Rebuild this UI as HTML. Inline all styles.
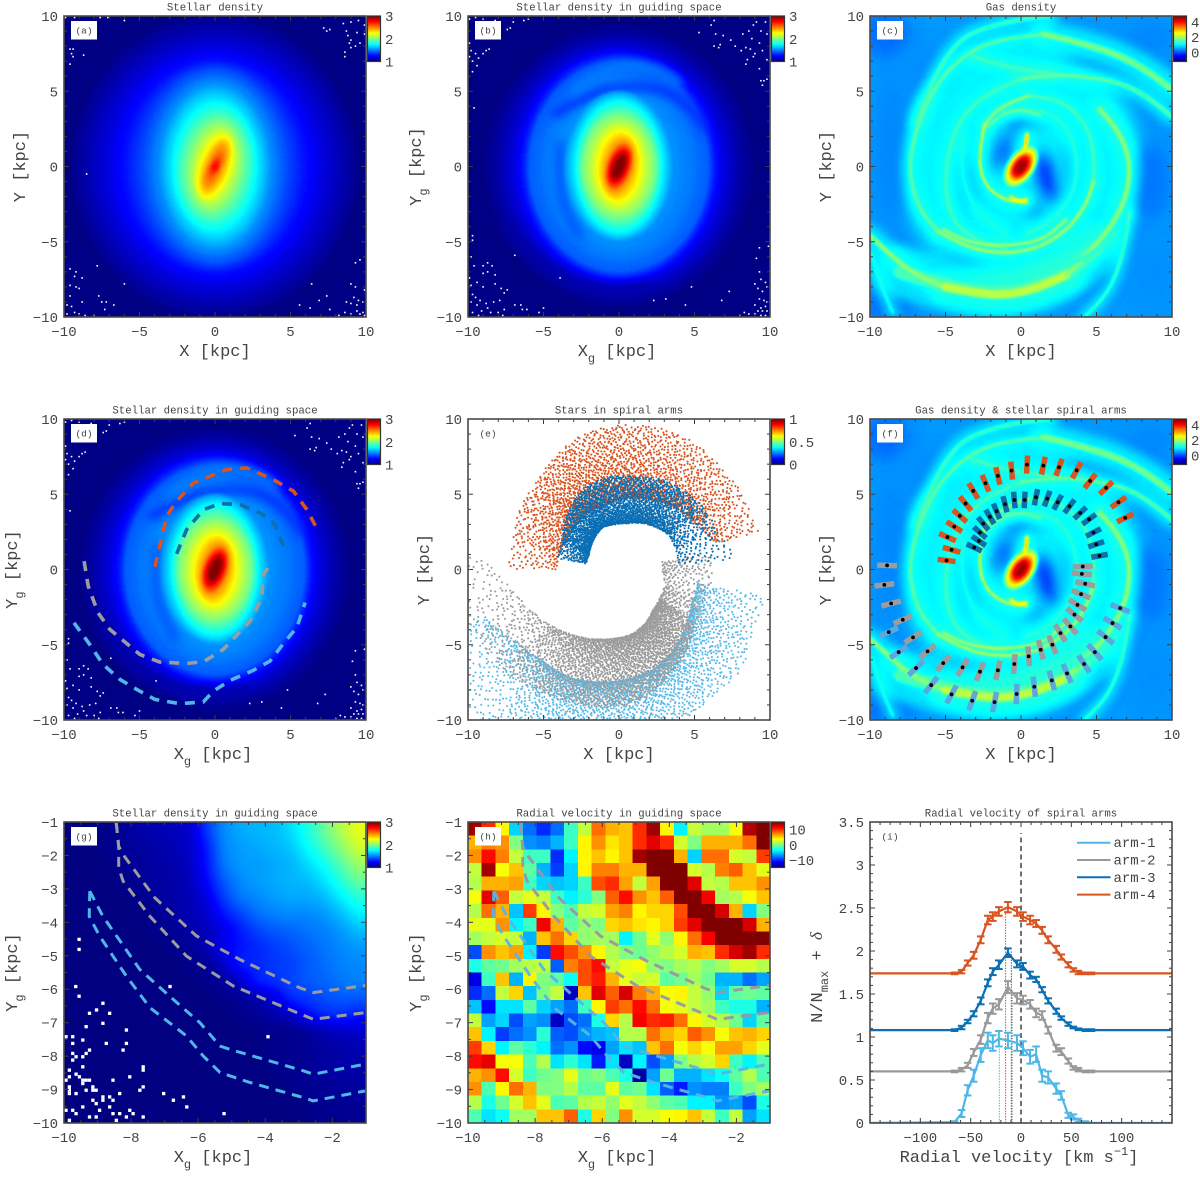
<!DOCTYPE html>
<html lang="en">
<head>
<meta charset="utf-8">
<title>Stellar and gas density maps with spiral arms</title>
<style>
html,body{margin:0;padding:0;background:#fff;}
#stage{position:relative;width:1200px;height:1177px;overflow:hidden;background:#fff;}
canvas{position:absolute;display:block;}
svg{position:absolute;left:0;top:0;}
text{font-family:"Liberation Mono",monospace;fill:#444;}
</style>
</head>
<body>
<div id="stage">
<canvas id="cv-a" width="302" height="301" style="left:64px;top:16px"></canvas>
<canvas id="cv-b" width="302" height="301" style="left:468px;top:16px"></canvas>
<canvas id="cv-c" width="302" height="301" style="left:870px;top:16px"></canvas>
<canvas id="cv-d" width="302" height="301" style="left:64px;top:419px"></canvas>
<canvas id="cv-f" width="302" height="301" style="left:870px;top:419px"></canvas>
<canvas id="cv-g" width="302" height="301" style="left:64px;top:822px"></canvas>
<svg id="chart" width="1200" height="1177" viewBox="0 0 1200 1177" xmlns="http://www.w3.org/2000/svg">
<defs id="defs"></defs>
</svg>
</div>
<script>
/* ---------- shared tick labels ---------- */
const fullTicks = [-10, -5, 0, 5, 10];
const zoomXTicks = [-10, -8, -6, -4, -2];
const zoomYTicks = [-10, -9, -8, -7, -6, -5, -4, -3, -2, -1];
const velTicks = [-100, -50, 0, 50, 100];
const normTicks = [0, 0.5, 1, 1.5, 2, 2.5, 3, 3.5];

/* ---------- panel (a): iso-density ellipses ---------- */
const stellarLevels = [1.03, 1.1, 1.2, 1.3, 1.42, 1.55, 1.7, 1.85, 2.0, 2.12, 2.3, 2.45, 2.55, 2.75];
const stellarRx = [9.6, 8.6, 7.2, 5.9, 4.7, 3.7, 3.0, 2.4, 1.8, 1.35, 0.85, 0.5, 0.3, 0.12];
const stellarRy = [10.2, 9.2, 8.0, 7.0, 6.4, 5.5, 4.6, 3.7, 3.0, 2.5, 2.0, 1.5, 0.9, 0.2];
const stellarTilt = [0, 0, 0, 0, 0, 0, 0, 5, 8, 12, 20, 22, 25, 25];
const stellarEmptyX = [9.5,9,8.5,9.9,7.2,7.6,7.4,8.7,9.4,8.8,9,8.9,9.3,9.6,9,8.6,8.6,9.9,-9.9,-9.3,-7.6,-7.1,-6,-9.6,-9.4,-9.5,-9.4,-8.7,-9.6,-8.5,-9.6,-9.2,-9.3,-8.8,-9.6,-9.2,-9,-9.6,-7.8,-7.7,-7.5,-7.2,-8.8,-7.3,-6.7,-6,-9.8,-9.5,-9.8,-9.3,-9,-8.6,-8,6.4,6.9,7.4,7.6,8.2,5.6,6.3,9.3,9.6,9,9.3,9.2,9.5,8.7,9,9.4,9.8,9.9,8.6,9,9.4,9.6,9.8,9.9];
const stellarEmptyY = [9.7,9.6,9.5,9.4,9.2,9.1,9,9,8.9,8.7,8.4,8.2,8,8.2,7.9,7.6,7.3,8.8,9.9,9.9,9.9,9.9,9.7,7.8,7.8,7.5,7.3,7.4,6.8,-0.5,-6.8,-7,-7.3,-7.4,-7.9,-8,-8.1,-8.6,-6.6,-8.6,-9,-9,-9,-9.5,-9.2,-7.8,-9.2,-9.3,-9.8,-9.7,-9.8,-9.9,-9.9,-7.8,-8.9,-8.6,-9.5,-9.9,-9.2,-9.4,-6.4,-6.2,-7.8,-8,-8.7,-8.9,-9,-9.1,-9.2,-9,-8.2,-9.7,-9.8,-9.6,-9.8,-9.7,-9.9];

/* ---------- panels (b, d): iso-density ellipses and arm ridges ---------- */
const guidingLevels = [1.03, 1.08, 1.2, 1.32, 1.45, 1.55, 1.75, 2.0, 2.25, 2.5, 2.75, 3.0];
const guidingRx = [9.0, 8.2, 7.0, 6.3, 5.9, 3.6, 2.9, 2.4, 1.45, 0.8, 0.55, 0.25];
const guidingRy = [9.5, 8.8, 7.9, 7.4, 6.9, 5.0, 4.4, 3.4, 2.4, 1.6, 1.15, 0.7];
const guidingTilt = [0, 0, 0, 0, 0, 0, 0, 0, 3, 15, 20, 22];
const guidingRidgeLevel = [1.32, 1.08, 1.55, 1.42, 1.5, 1.36];
const guidingRidgeWidth = [0.5, 0.6, 0.4, 0.35, 0.5, 0.35];
const guidingRidgeX = [[-4.2,-2,0,2.5,4.5,5.8],[-7.5,-6,-4,-2,0,2],[3.2,3.5,3.4,2.8,1.8],[2.6,2.7,2.4,1.8],[-3,-1.5,0.5,2.5,4],[-3.9,-4,-3.5,-2.6]];
const guidingRidgeY = [[3.5,4.8,5.3,5.3,4.2,2.5],[-4,-5.8,-7.2,-8,-8.3,-8],[2.5,0.5,-1.2,-2.8,-4.2],[1.5,-0.2,-1.8,-3.2],[5,6.2,6.8,6.6,5.6],[1.5,-1,-3,-4.6]];
const guidingEmptyX = [6.3,6.1,5.3,6.4,6.9,7.4,8.2,8.8,8.6,8.9,9.1,9.4,9.7,9.8,6.7,6.3,6.6,7.7,8.1,8.4,8.7,9,9.3,9.5,9.8,8.5,8.9,8.4,9.3,9.6,9.4,9.5,9.8,-9.9,-9.5,-9,-8.2,-7,-7.2,-7.4,-6.3,-6,-9.9,-9.8,-9.5,-9.3,-9,-8.8,-9.7,-9.4,-8.6,-9.9,-9.7,-9.6,-9.7,-9.7,-9.8,-9.6,-8.7,-9,-8.4,-9,-8.7,-8.2,-9.9,-9.8,-9.4,-9,-8.2,-7.8,-7.6,-7.4,-9.7,-9.5,-9.2,-9.8,-9.4,-8.8,-8.3,-7.9,-9.1,-8.7,-8.5,-8,-7.7,-9.7,-9.3,-7.6,-6.9,-6.5,-6.4,-6.1,-6.9,-3.9,-5.3,-5,4.8,4.4,7.3,6.8,3.1,2.3,9.1,9.3,9.3,9.4,9,9.2,9.5,9.8,9.7,9.3,9.6,9.8,9,9.4,9.7,9.2,9.5,9.8,8.6,9,9.4,9.7,8,8.3,9.9];
const guidingEmptyY = [9.7,9.4,8.9,8.8,8.7,8.4,8.8,8.5,9,9.4,9.6,9,9.6,8.8,8.1,8,7.9,8,7.7,7.9,7.8,7.5,8.2,7.7,7.1,7.1,7.3,6.8,6.5,5.7,5.7,5.4,5.8,9.8,9.9,9.8,9.7,9.6,9.2,9.1,9.7,9.8,8.2,7.7,7.5,7.2,7.5,7.7,7,6.7,7.8,7.3,6.3,3.9,-4.6,-4.9,-6,-6.6,-6.4,-6.6,-6.6,-7.1,-7,-7.2,-7.4,-7.9,-7.7,-8,-7.8,-8.1,-8.4,-8.2,-8.5,-8.7,-8.9,-9,-9.2,-9.1,-9,-8.9,-9.6,-9.4,-9.7,-9.7,-9.9,-9.7,-9.9,-9.5,-9.2,-9.2,-9.5,-9.5,-5.9,-7.4,-9.7,-9.4,-8,-9.2,-8.3,-8.9,-8.8,-8.9,-6.1,-5.4,-7,-7.5,-7.8,-8.1,-8.3,-8,-7.7,-8.8,-8.9,-9,-9.2,-9.4,-9.3,-9.6,-9.6,-9.6,-9.8,-9.8,-9.9,-9.9,-9.9,-9.7,-5.3];

/* ---------- panels (c, f): gas background, filaments, centre ---------- */
const gasBlobX = [0,-9,-8.6,-6.5,-7,-9,5.3,6,8.6,8.8,5,8.5,-4,-3.5,1.7,-1.2,0,0.9,3.2];
const gasBlobY = [0,8.8,1,6.5,-8,-9.3,-6.5,-4.7,-1,-7,7,8.5,-6.8,-1,-0.7,1,2.6,-2.8,-0.5];
const gasBlobRx = [8,1.5,1,1.6,3.2,1,0.8,0.7,1.2,1,2,1.5,1.6,0.5,0.5,0.5,1,0.5,0.6];
const gasBlobRy = [8.5,1.5,4.5,1.4,1,0.7,1.6,1,2.5,2,0.5,1,0.4,2,1.7,1.3,0.5,0.6,2];
const gasBlobTilt = [0,0,0,0,-25,0,0,0,0,0,15,0,0,-10,-15,20,0,0,0];
const gasBlobLevel = [1.0,0.2,0.35,0.4,0.25,0.1,0.25,0.3,0.25,0.4,0.4,0.35,0.35,0.6,-0.6,-0.1,0.2,0.3,0.7];
const gasRidgeLevel = [1.45,1.75,1.7,2.1,1.5,1.9,2.15,1.85,1.7,1.55,1.7,2.2,2.6,2.3,1.5,1.3,1.6,1.3,1.2,3.0,3.1,1.9,1.5];
const gasRidgeWidth = [0.9,0.42,0.2,0.2,0.2,0.3,0.55,0.32,0.22,0.16,0.12,0.14,0.14,0.14,0.1,0.1,0.14,0.3,0.2,0.25,0.15,0.12,0.2];
const gasRidgeX = [
 [-8,-5,-3,-1,1,3,5],
 [10,8.5,6.5,4,1.5],
 [1.5,-1,-3,-5,-6.4,-7.2,-7.4,-6.8,-5.5],
 [-5.5,-3.8,-1.5,1,3,4.3,4.8],
 [-6.9,-6,-4.3,-2.5,0,2],
 [-10,-8.5,-7,-5],
 [-5,-3,-1,1,3],
 [3,5,6.6,7.2,7.1,6.2,5.2],
 [10,8.5,6.5,4,2,0],
 [0,-2,-3.8,-4.7,-5,-4.9,-4.2,-2.8,-1],
 [4.8,4.9,4.2,2.7,0.5],
 [0.5,-1.3,-2.4],
 [-2.4,-2.8,-2.6,-1.8,-0.8,0.4],
 [-5.15,-3.6,-0.95,1.5,3],
 [-1.5,0.5,2.3,3.4,3.8,3.4,2,0.3],
 [-3.8,-4,-3.5,-2.5,-1],
 [4.2,5.5,6.4,6.9,7.2],
 [0.8,4.4,6.3],
 [-9.9,-9.3,-8.5],
 [0.4,0.35,0.2],
 [-0.7,-0.3,0.4],
 [-2.3,-1.3,0,1.3],
 [-3.2,-1,2]];
const gasRidgeY = [
 [-7,-7.9,-8.3,-8.4,-8,-7.1,-5.4],
 [5.1,6.3,7.4,8.2,8.8],
 [8.8,8.5,7.9,6.3,4,1.5,-0.5,-2.8,-4.3],
 [-4.3,-5.3,-5.8,-5.5,-4.3,-2.6,-1],
 [3,5.5,8.3,9.2,9.8,10],
 [-4.6,-6,-7.2,-8],
 [-8,-8.4,-8.55,-8.1,-7.2],
 [-7.2,-5.3,-3,-1,1,2.7,3.8],
 [3.3,4.6,5.6,6,6.1,5.8],
 [5.8,5,3.5,1.5,-0.5,-2.5,-4,-5,-5.4],
 [-1,1,3,4.4,4.7],
 [4.7,4.1,2.8],
 [2.8,1,-0.8,-1.8,-2.3,-2.4],
 [-4.2,-5.1,-5.3,-4.9,-3.5],
 [3.6,3.9,3.4,2,0,-2,-3.7,-4.5],
 [2,0,-2,-3.5,-4.5],
 [-10,-8.8,-7,-5,-3],
 [-7.3,-6.2,-4.4],
 [-5.8,-7.8,-9.7],
 [2.1,1.5,1.1],
 [-2,-2.3,-2.2],
 [2.6,3.5,3.8,3.4],
 [7.3,6.6,6.2]];
const gasCoreLevels = [2.2, 3.0, 4.0, 4.6];
const gasCoreRx = [0.85, 0.65, 0.5, 0.3];
const gasCoreRy = [1.5, 1.15, 0.85, 0.55];
const gasCoreTilt = 35;

/* ---------- panels (d, g, h): dashed arm boundaries ---------- */
const armDColors = ['#d9541e','#0f6fa8','#9c9c9c','#4fb6e6'];
const armDX = [
 [-3.98,-3.2,-2.54,-1.44,0.77,2.1,3.87,5.2,6.08,6.75],
 [-2.54,-1.88,-0.77,0.33,1.66,2.99,3.98,4.65],
 [-8.67,-8.4,-7.74,-6.97,-4.98,-3.65,-1.88,-0.77,0.55,2.32,3.1,3.2,3.5],
 [-9.34,-8.3,-7.41,-6.3,-5.2,-3.98,-2.32,-0.77,-0.11,1,2.54,3.65,4.65,5.42,5.97]];
const armDY = [
 [0.18,3.54,4.54,5.75,6.64,6.75,5.97,5.2,3.98,2.72],
 [1.04,2.65,3.98,4.38,4.31,3.76,2.99,1.22],
 [0.55,-1.1,-2.88,-3.98,-5.64,-6.15,-6.24,-6.13,-5.31,-3.43,-1.88,-0.33,0.1],
 [-3.54,-4.98,-6.31,-7.3,-7.96,-8.63,-8.92,-8.8,-8.08,-7.37,-6.7,-6.08,-4.76,-3.87,-2.2]];
const edgeColors = ['#9c9c9c','#9c9c9c','#4fb6e6','#4fb6e6'];
const edgeX = [
 [-8.44,-8.37,-8.19,-7.29,-6.05,-4.76,-2.97,-2.57,-1.02],
 [-8.44,-8.37,-8.37,-8.24,-7.44,-6.35,-4.96,-3.06,-2.57,-1.02],
 [-9.23,-8.84,-7.74,-6.75,-5.95,-5.35,-5.05,-2.87,-2.57,-1.02],
 [-9.23,-9.25,-8.94,-8.14,-7.44,-6.35,-5.85,-5.35,-4.46,-2.87,-2.57,-1.02]];
const edgeY = [
 [-1.03,-1.73,-2.04,-3.27,-4.41,-5.11,-5.96,-6.1,-5.89],
 [-1.03,-1.73,-2.37,-2.77,-3.82,-5.01,-5.9,-6.7,-6.9,-6.7],
 [-3.07,-3.82,-5.41,-6.3,-7,-7.7,-7.8,-8.44,-8.54,-8.24],
 [-3.07,-3.82,-4.41,-5.61,-6.55,-7.4,-8,-8.49,-8.79,-9.24,-9.34,-9.04]];

/* ---------- panel (e): star counts per 15-degree polar bin ---------- */
const sceneColors = ['#57bbe9','#9c9c9c','#d9541e','#0a6fb4'];
const armThetaStart = [
 [200,215,230,245,260,275,290,305,320,335],
 [175,190,205,220,235,250,265,280,295,310,325,340,355],
 [15,30,45,60,75,90,105,120,135,150,165],
 [5,20,35,50,65,80,95,110,125,140,155]];
const armInnerRadius = [
 [9.4,8.3,7.9,7.9,7.6,7.3,7,6.4,5.8,5.3],
 [8.8,7.2,6.4,5.8,5.3,4.9,4.6,4.4,4,3.5,3.3,3.2,2.9],
 [6.6,5.9,5.6,5.2,4.9,4.6,4.3,4.3,4.1,4,4.1],
 [3.9,4,4,3.7,3.4,3.1,3,3,2.7,2.4,2.2]];
const armOuterRadius = [
 [12,13,14,11.5,11,11,11,10.5,10.5,9.8],
 [11,11,10.5,10.2,9.8,9.4,9.2,8.8,7.8,7,6.2,6,6.2],
 [9.6,9.6,9.6,9.8,9.8,9.6,9.3,8.6,7.9,7.7,7.3],
 [8,7,7,6.8,6.6,6.3,6.2,6,5.4,4.7,4.2]];
const armCounts = [
 [90,190,320,340,340,320,300,240,220,160],
 [35,70,120,240,340,400,430,420,400,290,110,60,90],
 [120,190,230,270,310,330,320,270,190,130,70],
 [70,120,230,290,300,290,300,280,240,190,100]];
const armInnerBias = [1.7, 1.3, 1.35, 1.3];

/* ---------- panel (f): arm sample points ---------- */
const fColors = ['#5ba8e0','#9c9c9c','#0f6fa8','#d9541e'];
const fHalf = [0.68, 0.66, 0.55, 0.6];
const fX = [
 [-8.76,-8.1,-6.95,-5.95,-4.6,-3.23,-1.75,-0.29,0.88,2.04,3.05,4.18,4.89,5.6,6.06,6.57],
 [-8.87,-9.05,-8.6,-7.83,-7.15,-6.19,-5.15,-3.87,-2.72,-1.53,-0.44,0.51,1.31,2.08,2.61,3.27,3.54,3.74,3.98,4.25,4.03,4.09],
 [-3.1,-2.79,-2.72,-2.5,-2.06,-1.62,-1.06,-0.44,0.24,0.99,1.73,2.43,3.21,3.92,4.51,4.8,4.98,5.2],
 [-4.93,-4.6,-4.87,-4.42,-4.05,-3.67,-3.16,-2.35,-1.53,-0.62,0.4,1.48,2.52,3.69,4.58,5.64,6.46,6.9]];
const fY = [
 [-4.16,-5.49,-6.55,-7.68,-8.3,-8.72,-8.81,-8.27,-7.79,-7.37,-6.9,-6.28,-5.49,-4.49,-3.56,-2.57],
 [0.27,-1.02,-2.26,-3.34,-4.51,-5.44,-6.22,-6.5,-6.79,-6.7,-6.28,-5.77,-5.33,-5,-4.23,-3.78,-3,-2.35,-1.64,-0.95,-0.29,0.2],
 [1.46,1.9,2.46,3.05,3.5,3.87,4.34,4.62,4.62,4.8,4.71,4.47,4.2,3.76,3.34,2.46,1.68,0.91],
 [0.6,1.31,2.15,2.85,3.56,4.38,5.22,5.73,6.22,6.57,6.97,6.9,6.79,6.59,5.88,5.42,4.47,3.43]];

/* ---------- panel (g): density on a 0.5 kpc grid, top row first ---------- */
const gDensity = [
 [1,1,1.02,1.05,1.08,1.1,1.12,1.15,1.35,1.52,1.58,1.6,1.62,1.68,1.8,1.95,2.1,2.2],
 [1,1,1.02,1.04,1.06,1.08,1.1,1.15,1.3,1.5,1.56,1.58,1.6,1.64,1.75,1.88,2.02,2.15],
 [1,1,1,1.03,1.05,1.07,1.09,1.13,1.28,1.48,1.55,1.56,1.58,1.6,1.68,1.78,1.92,2.05],
 [1,1,1,1.02,1.04,1.06,1.08,1.12,1.25,1.42,1.52,1.56,1.58,1.6,1.62,1.7,1.82,1.95],
 [1,1,1,1,1.02,1.05,1.08,1.1,1.2,1.36,1.48,1.52,1.56,1.58,1.58,1.62,1.72,1.82],
 [1,1,1,1,1,1.03,1.06,1.1,1.15,1.28,1.38,1.46,1.5,1.52,1.52,1.55,1.62,1.72],
 [1,1,1,1,1,1.02,1.04,1.08,1.12,1.2,1.3,1.38,1.42,1.45,1.48,1.5,1.55,1.62],
 [1,1,1,1,1,1,1.02,1.04,1.1,1.22,1.28,1.32,1.36,1.4,1.44,1.48,1.52,1.55],
 [1,1,1,1,1,1,1,1.02,1.05,1.14,1.3,1.32,1.35,1.38,1.42,1.46,1.5,1.52],
 [1,1,1,1,1,1,1,1,1.02,1.06,1.14,1.3,1.34,1.38,1.42,1.45,1.48,1.5],
 [1,1,1,1,1,1,1,1,1,1.02,1.05,1.1,1.2,1.32,1.36,1.4,1.42,1.42],
 [1,1,1,1,1,1,1,1,1,1,1.02,1.04,1.08,1.14,1.25,1.32,1.34,1.3],
 [1,1,1,1,1,1,1,1,1,1,1,1.01,1.02,1.03,1.06,1.1,1.14,1.15],
 [1,1,1,1,1,1,1,1,1,1,1,1.01,1.02,1.03,1.04,1.06,1.08,1.1],
 [1,1,1,1,1,1,1,1,1,1,1,1,1.02,1.03,1.04,1.06,1.08,1.08],
 [1,1,1,1,1,1,1,1,1,1,1,1,1,1.02,1.04,1.05,1.06,1.06],
 [1,1,1,1,1,1,1,1,1,1,1,1,1,1,1.02,1.03,1.04,1.05],
 [1,1,1,1,1,1,1,1,1,1,1,1,1,1,1.01,1.02,1.03,1.04]];
const gEmptyX = [-9.55,-9.55,-9.65,-9.55,-8.84,-9.03,-9.24,-8.64,-9.34,-8.84,-8.14,-9.94,-9.74,-9.44,-9.74,-8.74,-8.14,-9.24,-8.24,-9.74,-9.34,-9.44,-9.64,-9.74,-9.44,-7.64,-7.64,-8.04,-9.84,-9.64,-9.54,-9.44,-9.34,-9.84,-9.24,-8.54,-9.94,-9.44,-9.84,-9.14,-7.64,-7.74,-9.84,-9.34,-9.14,-9.04,-9.84,-9.64,-8.34,-7.03,-6.44,-9.14,-8.84,-8.64,-8.54,-9.04,-8.84,-6.74,-6.34,-9.44,-8.64,-9.94,-9.74,-8.94,-8.04,-9.64,-8.54,-8.34,-7.94,-9.24,-9.04,-8.14,-7.64,-9.84,-8.44,-5.23,-6.84,-3.92];
const gEmptyY = [-4.51,-4.81,-5.92,-6.21,-6.42,-6.62,-6.72,-6.72,-7.12,-7.02,-7.22,-7.42,-7.42,-7.52,-7.62,-7.62,-7.62,-7.82,-7.82,-7.92,-7.92,-8.02,-8.02,-8.12,-8.32,-8.32,-8.42,-8.62,-8.42,-8.54,-8.62,-8.72,-8.72,-8.62,-8.72,-8.72,-8.72,-8.82,-8.92,-8.92,-8.92,-9.02,-9.02,-9.02,-9.02,-9.02,-9.12,-9.12,-9.12,-9.12,-9.22,-9.32,-9.22,-9.22,-9.32,-9.42,-9.32,-9.32,-9.52,-9.52,-9.52,-9.62,-9.62,-9.62,-9.62,-9.72,-9.72,-9.72,-9.72,-9.82,-9.82,-9.82,-9.82,-9.92,-9.92,-9.72,-5.92,-7.42];

/* ---------- panel (h): radial velocity per cell, top row first ---------- */
const hVelocity = [
 [14,10,4,-5,-8,-10,-8,-2,2,8,6,5.5,10,14,4,-4,2,1,1,3.5,13.5,15],
 [6,7.5,7,0,-7,-7.5,-6,-2,4,7,4.5,5.5,10,12,10,2.5,0,6,6,6,8,15],
 [7,11,7.5,2,-2,-2,-10,-4,4,5.5,4,5.5,14,15,15,6,-5,8,8,2.5,2,9.5],
 [2,14,3.5,5.5,-1,-6,-9.5,-5,4,7.5,7.5,6,6,15,15,15,2.5,1.5,7.5,8.5,5.5,3],
 [1.5,6,6,6.5,-2,-5,-5.5,-5,-2,9,10,6.5,2,6.5,15,15,12,2,1.5,5.5,5.5,7],
 [3.5,12,8.5,2,3,2,-2,-4,-2.5,0,8.5,11,7,5.5,8.5,15,15,11.5,1,1.5,3.5,5.5],
 [1.5,8,6,-5.5,9.5,4,0,-1.5,2,2.5,6.5,7.5,4,5,5,9,15,15,12.5,6,-5,0],
 [3,3,7,-4,-2,11.5,6,-1,0.5,0,5,5.5,4.5,4,5,9.5,12,15,15,15,12.5,6],
 [1,2,2.5,2,-6,5.5,8,5,0.5,1,1,-4,-0.5,3,0.5,4,8,11.5,15,15,15,15],
 [-9,7,5.5,6.5,-4,-9.5,11,9,7,4,1.5,0,-0.5,0.5,1.5,2.5,6,5.5,10,12.5,14,10],
 [-3,-1,-0.5,1,1.5,2,-8.5,7.5,9,11,2,3,3.5,0.5,0,1,1.5,0,1,2.5,2.5,1.5],
 [-12,-2,5.5,-6,4,0,-1,-3.5,9,10.5,6,3,2,2.5,-1,-0.5,1,-0.5,-6,-6,-8,-6.5],
 [-10,-8,2,5,-5.5,0,2,-13,5.5,12,8.5,12.5,7.5,6,3.5,4,2,0.5,-5,-1,-0.5,-1],
 [-5.5,-11,-4.5,-4.5,-1,-5,-6.5,-8,-2,4,9.5,8,11,8,3.5,3,2,1,-2,-3,-3,-6],
 [2,-6.5,-5,-9,-6.5,-7,-13,-9,-8,-3,5,1.5,11.5,10,10.5,8,4,2.5,1.5,-0.5,-5,-1],
 [5.5,-4,-9.5,-8,-7,-2.5,-8.5,-9,-7,-6,-5.5,1.5,1.5,8,6,5,8.5,7,3.5,5.5,6,5],
 [9.5,5,-4,-1,-2.5,-4,-8,-7,-11,-11.5,-6.5,-4.5,-5.5,5.5,8,3.5,5,3.5,6.5,6.5,5,3],
 [11,12,3.5,3.5,-1.5,1.5,-4.5,-2.5,-4.5,-10.5,-4.5,-13,-4,-9,-6.5,0,1.5,2.5,5,-2,-4,-1.5],
 [6,7,11,2.5,-2,-0.5,0,3,-0.5,0,-1.5,-3,-14,-6.5,-0.5,-6,-6,-4.5,-3.5,-1,1.5,-1.5],
 [7,-1.5,4,8,6,0,0,1.5,-1,-1,3,-1,-0.5,-4.5,-8.5,-10.5,-7,-7.5,-7.5,-2,0,1],
 [1.5,-3,-0.5,2.5,5.5,3,-1.5,-1,1.5,2,0.5,3,2,0.5,-1,-1.5,-4,-4,-7,-6.5,-9,-3],
 [-1.5,-4.5,-3.5,1,1,5.5,5.5,8.5,-3,5,0,7,2.5,2.5,3.5,4,5.5,2,-2,2,-6.5,-4.5]];

/* ---------- panel (i): velocity histograms ---------- */
const velocities = [-150,-66,-59,-53,-47,-40,-33,-28,-22,-13,-4,2,9,15,21,27,35,40,47,52,57,64,70,150];
const arm1 = [0,0.01,0.11,0.38,0.55,0.79,0.96,0.93,0.98,0.96,0.93,0.87,0.77,0.8,0.55,0.53,0.4,0.32,0.09,0.07,0.03,0.01,0,0];
const arm2 = [0.6,0.6,0.62,0.67,0.82,0.97,1.22,1.33,1.38,1.58,1.45,1.43,1.38,1.28,1.25,1.08,0.87,0.83,0.72,0.64,0.62,0.6,0.6,0.6];
const arm3 = [1.08,1.08,1.11,1.18,1.27,1.42,1.63,1.76,1.84,1.98,1.85,1.82,1.72,1.67,1.55,1.42,1.3,1.22,1.15,1.11,1.09,1.08,1.08,1.08];
const arm4 = [1.74,1.74,1.76,1.86,1.95,2.13,2.36,2.4,2.46,2.51,2.46,2.4,2.36,2.32,2.24,2.13,2.02,1.93,1.84,1.78,1.75,1.74,1.74,1.74];
const err1 = [0,0.01,0.04,0.06,0.07,0.08,0.09,0.09,0.09,0.09,0.09,0.08,0.08,0.09,0.07,0.07,0.06,0.05,0.03,0.03,0.02,0.01,0,0];
const err2 = [0,0.01,0.02,0.03,0.04,0.05,0.06,0.06,0.06,0.07,0.06,0.05,0.05,0.05,0.05,0.04,0.04,0.04,0.03,0.02,0.02,0.01,0.01,0];
const err3 = [0,0.01,0.02,0.02,0.03,0.04,0.04,0.04,0.05,0.05,0.04,0.04,0.04,0.03,0.03,0.03,0.03,0.02,0.02,0.01,0.01,0.01,0.01,0];
const err4 = [0,0.01,0.02,0.03,0.04,0.04,0.05,0.05,0.05,0.06,0.05,0.05,0.05,0.04,0.04,0.04,0.04,0.03,0.03,0.02,0.02,0.01,0.01,0];
const armNames = ['arm-1','arm-2','arm-3','arm-4'];
const armColors = ['#4db7e8','#999999','#0a6fb4','#d9541e'];
const peakVelocity = [-21.5,-8.7,-9.6,-15.3];
const peakHeight = [1.0,1.55,2.0,2.5];

/* ---------- helpers ---------- */
const NS = 'http://www.w3.org/2000/svg';
const chart = document.getElementById('chart');
const defs = document.getElementById('defs');
const COLS = [64, 468, 870], ROWS = [16, 419, 822], W = 302, H = 301;

function jet(t) {
  t = Math.max(0, Math.min(1, t));
  const c = v => Math.round(255 * Math.max(0, Math.min(1, v)));
  return [c(1.5 - Math.abs(4 * t - 3)), c(1.5 - Math.abs(4 * t - 2)), c(1.5 - Math.abs(4 * t - 1))];
}
function jetCss(t) { const c = jet(t); return 'rgb(' + c[0] + ',' + c[1] + ',' + c[2] + ')'; }

function shape(parent, tag, attrs, name) {
  const node = document.createElementNS(NS, tag);
  for (const k in attrs) node.setAttribute(k, attrs[k]);
  
  
  parent.appendChild(node);
  return node;
}
function label(parent, str, x, y, size, anchor, name, rot) {
  const t = document.createElementNS(NS, 'text');
  t.setAttribute('x', x);
  t.setAttribute('y', y);
  t.setAttribute('font-size', size);
  t.setAttribute('text-anchor', anchor);
  if (rot) t.setAttribute('transform', 'rotate(' + rot + ' ' + x + ' ' + y + ')');
  t.textContent = str;
  
  
  parent.appendChild(t);
  return t;
}
function span(t, str, size, dy, name) {
  const s = document.createElementNS(NS, 'tspan');
  if (size) s.setAttribute('font-size', size);
  if (dy) s.setAttribute('dy', dy);
  s.textContent = str;
  
  
  t.appendChild(s);
  return s;
}
function fmt(v) { return String(v).replace('-', '\u2212'); }

function makePanel(id, col, row, xr, yr) {
  const g = shape(chart, 'g', {}, 'panel-' + id);
  const L = COLS[col], T = ROWS[row];
  const sx = v => L + (v - xr[0]) / (xr[1] - xr[0]) * W;
  const sy = v => T + H - (v - yr[0]) / (yr[1] - yr[0]) * H;
  const clip = document.createElementNS(NS, 'clipPath');
  clip.setAttribute('id', 'clip-' + id);
  const cr = document.createElementNS(NS, 'rect');
  cr.setAttribute('x', L); cr.setAttribute('y', T); cr.setAttribute('width', W); cr.setAttribute('height', H);
  clip.appendChild(cr);
  defs.appendChild(clip);
  const marks = shape(g, 'g', { 'clip-path': 'url(#clip-' + id + ')' }, 'plot-area-' + id);
  return { id, g, marks, L, T, sx, sy, xr, yr };
}

function drawFrame(p, xLabels, yLabels, xMinor, yMinor) {
  const g = shape(p.g, 'g', { stroke: '#3c3c3c', 'stroke-width': 1, fill: 'none' }, 'ticks-' + p.id);
  const B = p.T + H, R = p.L + W;
  const tick = (x1, y1, x2, y2) => shape(g, 'line', { x1, y1, x2, y2 }, 'tick-mark');
  for (let k = 0, v = p.xr[0]; v <= p.xr[1] + 1e-6; k++, v = p.xr[0] + k * xMinor) {
    const major = xLabels.some(m => Math.abs(m - v) < 1e-6);
    const len = major ? 5 : 3, x = p.sx(v);
    tick(x, B, x, B - len); tick(x, p.T, x, p.T + len);
  }
  for (let k = 0, v = p.yr[0]; v <= p.yr[1] + 1e-6; k++, v = p.yr[0] + k * yMinor) {
    const major = yLabels.some(m => Math.abs(m - v) < 1e-6);
    const len = major ? 5 : 3, y = p.sy(v);
    tick(p.L, y, p.L + len, y); tick(R, y, R - len, y);
  }
  shape(p.g, 'rect', { x: p.L, y: p.T, width: W, height: H, fill: 'none', stroke: '#4a4a4a', 'stroke-width': 1.6 }, 'frame-' + p.id);
  xLabels.forEach(v => label(p.g, fmt(v), p.sx(v), B + 19, 14, 'middle', 'x-tick-label'));
  yLabels.forEach(v => label(p.g, fmt(v), p.L - 6, p.sy(v) + 5, 14, 'end', 'y-tick-label'));
}

function axisTitles(p, title, xName, xSub, yName, ySub) {
  label(p.g, title, p.L + W / 2, p.T - 5.5, 10.7, 'middle', 'panel-title-' + p.id);
  const xt = label(p.g, xName, p.L + W / 2 - (xSub ? 2 : 0), p.T + H + 39, 17, 'middle', 'x-axis-title-' + p.id);
  if (xSub) { span(xt, 'g', 12, 6, 'x-subscript'); span(xt, ' [kpc]', 17, -6, 'x-unit'); }
  else { span(xt, ' [kpc]', 17, 0, 'x-unit'); }
  const yx = ySub ? p.L - 47 : p.L - 39;
  const yt = label(p.g, yName, yx, p.T + H / 2, 17, 'middle', 'y-axis-title-' + p.id, -90);
  if (ySub) { span(yt, 'g', 12, 6, 'y-subscript'); span(yt, ' [kpc]', 17, -6, 'y-unit'); }
  else { span(yt, ' [kpc]', 17, 0, 'y-unit'); }
}

function letterBox(p, letter, box) {
  const bx = p.L + 7, by = p.T + 5;
  if (box) shape(p.g, 'rect', { x: bx, y: by, width: 26, height: 18.5, fill: '#fff' }, 'label-box-' + p.id);
  label(p.g, letter, bx + 13, by + 12.5, 9.5, 'middle', 'panel-letter-' + p.id);
}

const gradient = document.createElementNS(NS, 'linearGradient');
gradient.setAttribute('id', 'jet-gradient');
gradient.setAttribute('x1', 0); gradient.setAttribute('y1', 1); gradient.setAttribute('x2', 0); gradient.setAttribute('y2', 0);
[0, 0.125, 0.25, 0.375, 0.5, 0.625, 0.75, 0.875, 1].forEach(t => {
  const st = document.createElementNS(NS, 'stop');
  st.setAttribute('offset', t);
  st.setAttribute('stop-color', jetCss(t));
  gradient.appendChild(st);
});
defs.appendChild(gradient);

function colorbar(p, vmin, vmax, ticks) {
  const x = p.L + W + 1.5, top = p.T, hgt = 45.5;
  shape(p.g, 'rect', { x, y: top, width: 13, height: hgt, fill: 'url(#jet-gradient)', stroke: '#333', 'stroke-width': 1.2 }, 'colorbar-' + p.id);
  ticks.forEach(v => {
    const y = top + hgt - (v - vmin) / (vmax - vmin) * hgt;
    label(p.g, fmt(v), x + 17.5, y + 5, 14, 'start', 'colorbar-label-' + p.id);
  });
}

function paintField(canvas, vmin, vmax, drawFn) {
  const ctx = canvas.getContext('2d', { willReadFrequently: true });
  const gray = v => {
    const g = Math.round(255 * Math.max(0, Math.min(1, (v - vmin) / (vmax - vmin))));
    return 'rgb(' + g + ',' + g + ',' + g + ')';
  };
  drawFn(ctx, gray);
  ctx.filter = 'none';
  const img = ctx.getImageData(0, 0, canvas.width, canvas.height);
  const lut = [];
  for (let i = 0; i < 256; i++) lut.push(jet(i / 255));
  for (let i = 0; i < img.data.length; i += 4) {
    const c = lut[img.data[i]];
    img.data[i] = c[0]; img.data[i + 1] = c[1]; img.data[i + 2] = c[2]; img.data[i + 3] = 255;
  }
  ctx.putImageData(img, 0, 0);
}

const pxX = v => (v + 10) / 20 * W;
const pxY = v => (10 - v) / 20 * H;
const kpc = W / 20;

function strokeRidge(ctx, xs, ys) {
  ctx.beginPath();
  ctx.moveTo(pxX(xs[0]), pxY(ys[0]));
  for (let i = 1; i < xs.length - 1; i++) {
    const mx = (pxX(xs[i]) + pxX(xs[i + 1])) / 2, my = (pxY(ys[i]) + pxY(ys[i + 1])) / 2;
    ctx.quadraticCurveTo(pxX(xs[i]), pxY(ys[i]), mx, my);
  }
  ctx.lineTo(pxX(xs[xs.length - 1]), pxY(ys[ys.length - 1]));
  ctx.stroke();
}

function paintLevels(ctx, gray, levels, rx, ry, tilt) {
  ctx.filter = 'blur(1.5px)';
  const sub = 6;
  for (let i = 0; i < levels.length - 1; i++) {
    for (let s = 0; s < sub; s++) {
      const f = s / sub;
      const mix = a => a[i] + (a[i + 1] - a[i]) * f;
      ctx.fillStyle = gray(mix(levels));
      ctx.beginPath();
      ctx.ellipse(pxX(0), pxY(0), mix(rx) * kpc, mix(ry) * kpc, mix(tilt) * Math.PI / 180, 0, 2 * Math.PI);
      ctx.fill();
    }
  }
  const n = levels.length - 1;
  ctx.fillStyle = gray(levels[n]);
  ctx.beginPath();
  ctx.ellipse(pxX(0), pxY(0), rx[n] * kpc, ry[n] * kpc, tilt[n] * Math.PI / 180, 0, 2 * Math.PI);
  ctx.fill();
}

function paintStellar(canvas) {
  paintField(canvas, 1, 3, (ctx, gray) => {
    ctx.fillStyle = gray(1.01);
    ctx.fillRect(0, 0, W, H);
    paintLevels(ctx, gray, stellarLevels, stellarRx, stellarRy, stellarTilt);
  });
}

function paintGuiding(canvas) {
  paintField(canvas, 1, 3, (ctx, gray) => {
    ctx.fillStyle = gray(1.01);
    ctx.fillRect(0, 0, W, H);
    /* outer envelope, then ridges, then the bright inner ellipses */
    paintLevels(ctx, gray, guidingLevels.slice(0, 6), guidingRx.slice(0, 6), guidingRy.slice(0, 6), guidingTilt.slice(0, 6));
    ctx.filter = 'blur(5px)';
    ctx.lineCap = 'round';
    guidingRidgeLevel.forEach((lv, i) => {
      ctx.strokeStyle = gray(lv);
      ctx.lineWidth = guidingRidgeWidth[i] * kpc;
      strokeRidge(ctx, guidingRidgeX[i], guidingRidgeY[i]);
    });
    paintLevels(ctx, gray, guidingLevels.slice(5), guidingRx.slice(5), guidingRy.slice(5), guidingTilt.slice(5));
  });
}

function paintGas(canvas) {
  paintField(canvas, -1.2, 4.8, (ctx, gray) => {
    ctx.fillStyle = gray(0.45);
    ctx.fillRect(0, 0, W, H);
    ctx.filter = 'blur(8px)';
    gasBlobLevel.forEach((lv, i) => {
      ctx.fillStyle = gray(lv);
      ctx.beginPath();
      ctx.ellipse(pxX(gasBlobX[i]), pxY(gasBlobY[i]), gasBlobRx[i] * kpc, gasBlobRy[i] * kpc, gasBlobTilt[i] * Math.PI / 180, 0, 2 * Math.PI);
      ctx.fill();
    });
    ctx.lineCap = 'round';
    ctx.lineJoin = 'round';
    ctx.filter = 'blur(5px)';
    ctx.globalAlpha = 0.6;
    gasRidgeLevel.forEach((lv, i) => {
      ctx.strokeStyle = gray(Math.min(lv, 1.3));
      ctx.lineWidth = gasRidgeWidth[i] * kpc * 3.5 + 5;
      strokeRidge(ctx, gasRidgeX[i], gasRidgeY[i]);
    });
    ctx.globalAlpha = 1;
    ctx.filter = 'blur(1.1px)';
    gasRidgeLevel.forEach((lv, i) => {
      ctx.strokeStyle = gray(lv);
      ctx.lineWidth = gasRidgeWidth[i] * kpc;
      strokeRidge(ctx, gasRidgeX[i], gasRidgeY[i]);
    });
    ctx.filter = 'blur(1.5px)';
    gasCoreLevels.forEach((lv, i) => {
      ctx.fillStyle = gray(lv);
      ctx.beginPath();
      ctx.ellipse(pxX(0), pxY(0), gasCoreRx[i] * kpc, gasCoreRy[i] * kpc, gasCoreTilt * Math.PI / 180, 0, 2 * Math.PI);
      ctx.fill();
    });
  });
}

function whiteCells(p, xs, ys, size) {
  const g = shape(p.marks, 'g', { fill: '#fff' }, 'empty-cells-' + p.id);
  xs.forEach((x, i) => {
    shape(g, 'rect', { x: p.sx(x) - size / 2, y: p.sy(ys[i]) - size / 2, width: size, height: size }, 'empty-cell');
  });
}

function dashedPaths(p, xsets, ysets, colors, width, dash, opacity, prefix) {
  xsets.forEach((xs, i) => {
    const pts = xs.map((x, k) => p.sx(x).toFixed(1) + ',' + p.sy(ysets[i][k]).toFixed(1)).join(' ');
    shape(p.marks, 'polyline', {
      points: pts, fill: 'none', stroke: colors[i], 'stroke-width': width,
      'stroke-dasharray': dash, 'stroke-opacity': opacity
    }, prefix + '-' + i);
  });
}

/* ---------- build panels ---------- */
const full = [-10, 10], zx = [-10, -1];

paintStellar(document.getElementById('cv-a'));
const pa = makePanel('a', 0, 0, full, full);
whiteCells(pa, stellarEmptyX, stellarEmptyY, 1.6);
drawFrame(pa, fullTicks, fullTicks, 1, 1);
axisTitles(pa, 'Stellar density', 'X', false, 'Y', false);
letterBox(pa, '(a)', true);
colorbar(pa, 1, 3, [1, 2, 3]);

paintGuiding(document.getElementById('cv-b'));
const pb = makePanel('b', 1, 0, full, full);
whiteCells(pb, guidingEmptyX, guidingEmptyY, 1.6);
drawFrame(pb, fullTicks, fullTicks, 1, 1);
axisTitles(pb, 'Stellar density in guiding space', 'X', true, 'Y', true);
letterBox(pb, '(b)', true);
colorbar(pb, 1, 3, [1, 2, 3]);

paintGas(document.getElementById('cv-c'));
const pc = makePanel('c', 2, 0, full, full);
drawFrame(pc, fullTicks, fullTicks, 1, 1);
axisTitles(pc, 'Gas density', 'X', false, 'Y', false);
letterBox(pc, '(c)', true);
colorbar(pc, -1.2, 4.8, [0, 2, 4]);

paintGuiding(document.getElementById('cv-d'));
const pd = makePanel('d', 0, 1, full, full);
whiteCells(pd, guidingEmptyX, guidingEmptyY, 1.6);
dashedPaths(pd, armDX, armDY, armDColors, 3.6, '10 8', 1, 'arm-ridge');
drawFrame(pd, fullTicks, fullTicks, 1, 1);
axisTitles(pd, 'Stellar density in guiding space', 'X', true, 'Y', true);
letterBox(pd, '(d)', true);
colorbar(pd, 1, 3, [1, 2, 3]);

/* panel (e): dots are spread inside each polar bin by a fixed low-discrepancy lattice;
   the radial limits blend towards the next bin so the arm edges stay smooth */
function lattice(i, base) {
  let f = 1, r = 0;
  while (i > 0) { f /= base; r += f * (i % base); i = Math.floor(i / base); }
  return r;
}
const pe = makePanel('e', 1, 1, full, full);
armCounts.forEach((bins, a) => {
  const group = shape(pe.marks, 'g', { fill: sceneColors[a] }, 'star-group-' + a);
  let index = 1;
  bins.forEach((count, b) => {
    const next = Math.min(b + 1, bins.length - 1);
    for (let k = 0; k < count; k++, index++) {
      const fa = lattice(index, 2);
      const ang = (armThetaStart[a][b] + 15 * fa) * Math.PI / 180;
      const u = Math.pow(lattice(index, 3), armInnerBias[a]);
      const rIn = armInnerRadius[a][b] + (armInnerRadius[a][next] - armInnerRadius[a][b]) * fa;
      const rOut = armOuterRadius[a][b] + (armOuterRadius[a][next] - armOuterRadius[a][b]) * fa;
      const r = rIn + (rOut - rIn) * u;
      const x = r * Math.cos(ang), y = r * Math.sin(ang);
      if (Math.abs(x) > 10 || Math.abs(y) > 10) continue;
      const dot = document.createElementNS(NS, 'circle');
      dot.setAttribute('cx', pe.sx(x).toFixed(1));
      dot.setAttribute('cy', pe.sy(y).toFixed(1));
      dot.setAttribute('r', 1.05);
      
      
      group.appendChild(dot);
    }
  });
});
drawFrame(pe, fullTicks, fullTicks, 1, 1);
axisTitles(pe, 'Stars in spiral arms', 'X', false, 'Y', false);
letterBox(pe, '(e)', false);
colorbar(pe, 0, 1, [0, 0.5, 1]);

paintGas(document.getElementById('cv-f'));
const pf = makePanel('f', 2, 1, full, full);
fX.forEach((xs, a) => {
  const group = shape(pf.marks, 'g', {}, 'arm-samples-' + a);
  xs.forEach((x, i) => {
    const y = fY[a][i], r = Math.hypot(x, y), q = fHalf[a] / r;
    shape(group, 'line', {
      x1: pf.sx(x * (1 - q)), y1: pf.sy(y * (1 - q)), x2: pf.sx(x * (1 + q)), y2: pf.sy(y * (1 + q)),
      stroke: fColors[a], 'stroke-width': 5.5
    }, 'arm-normal-bar');
    shape(group, 'circle', { cx: pf.sx(x), cy: pf.sy(y), r: 1.9, fill: '#000' }, 'arm-sample-point');
  });
});
drawFrame(pf, fullTicks, fullTicks, 1, 1);
axisTitles(pf, 'Gas density & stellar spiral arms', 'X', false, 'Y', false);
letterBox(pf, '(f)', true);
colorbar(pf, -1.2, 4.8, [0, 2, 4]);

/* panel (g): one source pixel per grid cell, smoothed by the browser when scaled */
(function () {
  const cv = document.getElementById('cv-g');
  const n = gDensity.length, m = gDensity[0].length;
  const small = document.createElement('canvas');
  small.width = m; small.height = n;
  const sc = small.getContext('2d');
  paintField(cv, 1, 3, (ctx, gray) => {
    gDensity.forEach((row, r) => row.forEach((v, c) => {
      sc.fillStyle = gray(v);
      sc.fillRect(c, r, 1, 1);
    }));
    ctx.imageSmoothingEnabled = true;
    ctx.imageSmoothingQuality = 'high';
    ctx.drawImage(small, 0, 0, W, H);
  });
})();
const pg = makePanel('g', 0, 2, zx, zx);
whiteCells(pg, gEmptyX, gEmptyY, 3.3);
dashedPaths(pg, edgeX, edgeY, edgeColors, 3, '10 7', 1, 'arm-edge');
drawFrame(pg, zoomXTicks, zoomYTicks, 0.5, 0.5);
axisTitles(pg, 'Stellar density in guiding space', 'X', true, 'Y', true);
letterBox(pg, '(g)', true);
colorbar(pg, 1, 3, [1, 2, 3]);

const ph = makePanel('h', 1, 2, zx, zx);
(function () {
  const rows = hVelocity.length, cols = hVelocity[0].length;
  const cg = shape(ph.marks, 'g', { 'shape-rendering': 'crispEdges' }, 'velocity-cells');
  hVelocity.forEach((row, r) => row.forEach((v, c) => {
    const x0 = ph.sx(-10 + c * 9 / cols), x1 = ph.sx(-10 + (c + 1) * 9 / cols);
    const y0 = ph.sy(-1 - r * 9 / rows), y1 = ph.sy(-1 - (r + 1) * 9 / rows);
    const rect = document.createElementNS(NS, 'rect');
    rect.setAttribute('x', x0);
    rect.setAttribute('y', y0);
    rect.setAttribute('width', x1 - x0 + 0.5);
    rect.setAttribute('height', y1 - y0 + 0.5);
    rect.setAttribute('fill', jetCss((v + 15) / 30));
    
    
    cg.appendChild(rect);
  }));
})();
dashedPaths(ph, edgeX, edgeY, ['#9a96a4', '#9a96a4', '#58b4e4', '#58b4e4'], 3, '10 7', 0.95, 'arm-edge');
drawFrame(ph, zoomXTicks, zoomYTicks, 0.5, 0.5);
axisTitles(ph, 'Radial velocity in guiding space', 'X', true, 'Y', true);
letterBox(ph, '(h)', true);
colorbar(ph, -15, 15, [-10, 0, 10]);

/* panel (i) */
const pi = makePanel('i', 2, 2, [-150, 150], [0, 3.5]);
const armSeries = [arm1, arm2, arm3, arm4];
const armErrors = [err1, err2, err3, err4];
shape(pi.marks, 'line', { x1: pi.sx(0), x2: pi.sx(0), y1: pi.sy(0), y2: pi.sy(3.37), stroke: '#333', 'stroke-width': 1.4, 'stroke-dasharray': '5 3.5' }, 'zero-velocity-line');
armSeries.forEach((series, a) => {
  shape(pi.marks, 'line', {
    x1: pi.sx(peakVelocity[a]), x2: pi.sx(peakVelocity[a]), y1: pi.sy(0), y2: pi.sy(peakHeight[a]),
    stroke: armColors[a], 'stroke-width': 1, 'stroke-dasharray': '1.5 1.2'
  }, 'peak-line-' + armNames[a]);
});
armSeries.forEach((series, a) => {
  const group = shape(pi.marks, 'g', { stroke: armColors[a], fill: 'none' }, 'series-' + armNames[a]);
  const pts = series.map((v, i) => pi.sx(velocities[i]).toFixed(1) + ',' + pi.sy(v).toFixed(1)).join(' ');
  shape(group, 'polyline', { points: pts, 'stroke-width': 2.2 }, 'line-' + armNames[a]);
  series.forEach((v, i) => {
    const e = armErrors[a][i];
    if (!e) return;
    const x = pi.sx(velocities[i]), hi = pi.sy(v + e), lo = pi.sy(v - e), cap = 3.8;
    shape(group, 'line', { x1: x, x2: x, y1: hi, y2: lo, 'stroke-width': 2 }, 'error-bar');
    shape(group, 'line', { x1: x - cap, x2: x + cap, y1: hi, y2: hi, 'stroke-width': 2 }, 'error-cap');
    shape(group, 'line', { x1: x - cap, x2: x + cap, y1: lo, y2: lo, 'stroke-width': 2 }, 'error-cap');
  });
});
drawFrame(pi, velTicks, normTicks, 10, 0.1);
label(pi.g, 'Radial velocity of spiral arms', pi.L + W / 2, pi.T - 5.5, 10.7, 'middle', 'panel-title-i');
(function () {
  const xt = label(pi.g, 'Radial velocity [km s', pi.L + W / 2 - 2, pi.T + H + 39, 17, 'middle', 'x-axis-title-i');
  span(xt, '\u22121', 12, -7, 'x-superscript');
  span(xt, ']', 17, 7, 'x-bracket');
  const yt = label(pi.g, 'N/N', pi.L - 48, pi.T + H / 2 + 5, 17, 'middle', 'y-axis-title-i', -90);
  span(yt, 'max', 12, 6, 'y-subscript');
  span(yt, ' + ', 17, -6, 'y-plus');
  const d = span(yt, '\u03B4', 17, 0, 'y-delta');
  d.setAttribute('font-style', 'italic');
  d.setAttribute('style', 'font-family:"Liberation Serif",serif');
})();
letterBox(pi, '(i)', false);
armNames.forEach((name, a) => {
  const y = 842.7 + a * 17.3;
  const entry = shape(pi.g, 'g', {}, 'legend-entry-' + name);
  shape(entry, 'line', { x1: 1077, x2: 1110.5, y1: y, y2: y, stroke: armColors[a], 'stroke-width': 2 }, 'legend-line-' + name);
  label(entry, name, 1113.5, y + 4.5, 14, 'start', 'legend-label-' + name);
});
</script>
</body>
</html>
